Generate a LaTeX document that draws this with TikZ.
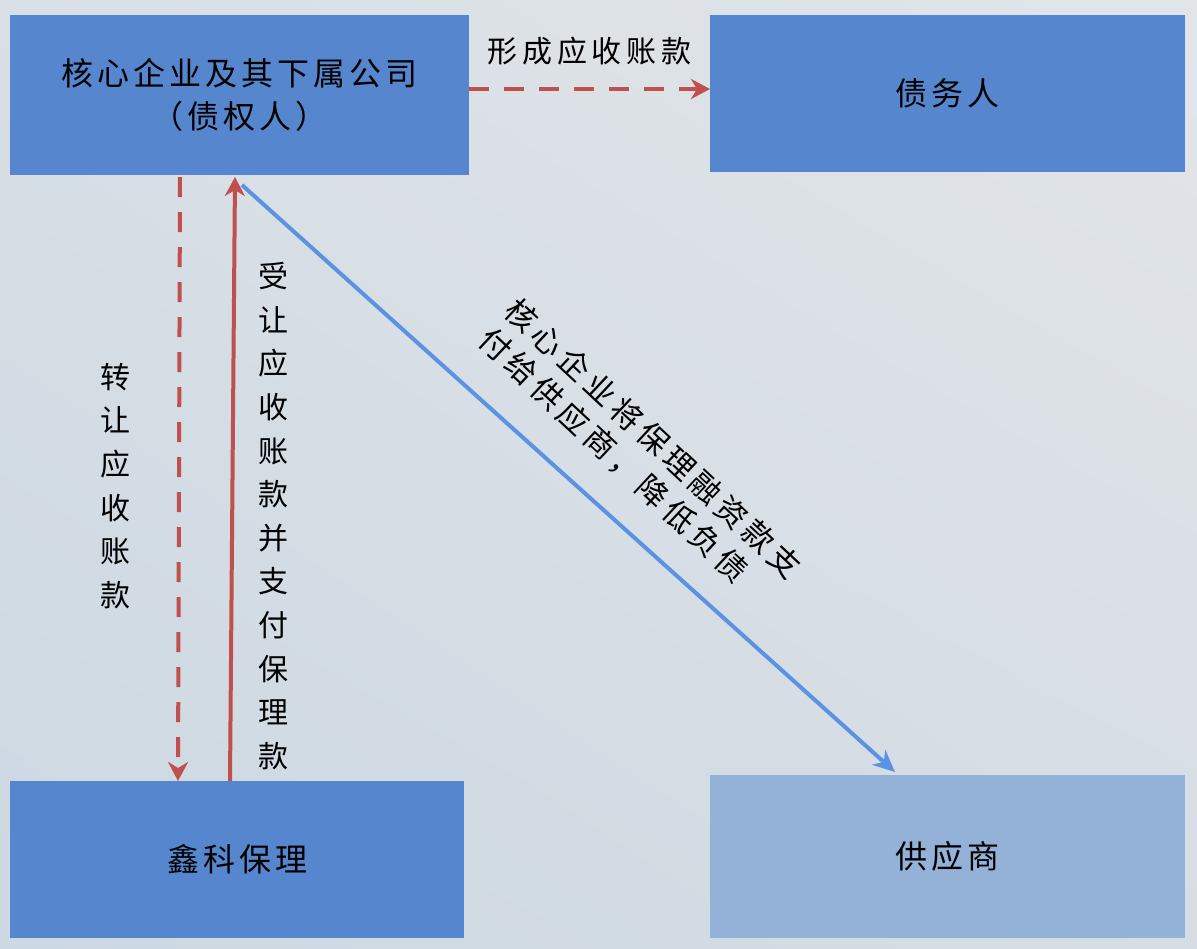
\documentclass[tikz,border=0pt]{standalone}
\usepackage{fontspec}
\usetikzlibrary{arrows.meta,shadings}
\newfontfamily\cjk{Noto Sans CJK SC}
\newfontfamily\cjkwide[LetterSpace=12.5]{Noto Sans CJK SC}
\newfontfamily\cjkdiag[LetterSpace=16]{Noto Sans CJK SC}
\definecolor{boxblue}{HTML}{5586CE}
\definecolor{lightbox}{HTML}{94B2D8}
\definecolor{arrred}{HTML}{C0504D}
\definecolor{arrblue}{HTML}{5B93E4}
\definecolor{bgUL}{RGB}{216,223,229}
\definecolor{bgUR}{RGB}{226,229,232}
\definecolor{bgLL}{RGB}{204,216,226}
\definecolor{bgLR}{RGB}{214,221,228}
\begin{document}
\begin{tikzpicture}[x=1pt,y=-1pt,
  box/.style={fill=#1, draw=none, inner sep=0pt, outer sep=0pt, align=center,
    text=black, font=\cjkwide\fontsize{32}{43}\selectfont},
  vlabel/.style={align=center, inner sep=0pt, text=black, font=\cjk\fontsize{30}{43.6}\selectfont},
  dlabel/.style={inner sep=0pt, rotate=-43, align=left, text=black,
    font=\cjkdiag\fontsize{31}{39}\selectfont},
  redtip/.style={-{Stealth[length=19pt,width=20pt,inset=6pt]}},
  dashline/.style={arrred, line width=4pt, dash pattern=on 20pt off 15pt, redtip},
  solidline/.style={arrred, line width=4pt, redtip},
  blueline/.style={arrblue, line width=4pt, -{Stealth[length=22pt,width=20pt,inset=7pt]}}
]
\useasboundingbox (0,0) rectangle (1197,948);
\shade[upper left=bgUL, upper right=bgUR, lower left=bgLL, lower right=bgLR] (0,0) rectangle (1197,948);

\node[box=boxblue, minimum width=459pt, minimum height=160pt] (A) at (239.5,95)
  {核心企业及其下属公司\\（债权人）};
\node[box=boxblue, minimum width=475pt, minimum height=157pt] (B) at (947.5,93.5) {债务人};
\node[box=boxblue, minimum width=454pt, minimum height=157pt] (C) at (237,859.5) {鑫科保理};
\node[box=lightbox, minimum width=475pt, minimum height=163pt] (D) at (947.5,856.5) {供应商};

\draw[dashline] ([yshift=6pt]A.east) -- ([yshift=4.5pt]B.west)
  node[midway, above=22pt, inner sep=0pt, text=black,
       font=\cjkdiag\fontsize{30}{36}\selectfont] (L1) {形成应收账款};

\draw[dashline] ([xshift=170pt,yshift=-2pt]A.south west) -- ([xshift=168pt]C.north west);
\draw[solidline] ([xshift=220pt]C.north west) -- ([xshift=225pt,yshift=-2pt]A.south west);
\draw[blueline] ([xshift=232pt,yshift=-10pt]A.south west) -- ([xshift=185pt,yshift=3pt]D.north west);

\node[vlabel] (L2) at (115,486) {转\\让\\应\\收\\账\\款};
\node[vlabel] (L3) at (273,516) {受\\让\\应\\收\\账\\款\\并\\支\\付\\保\\理\\款};
\node[dlabel] (L4) at (640,453) {核心企业将保理融资款支\\付给供应商，降低负债};
\end{tikzpicture}
\end{document}
